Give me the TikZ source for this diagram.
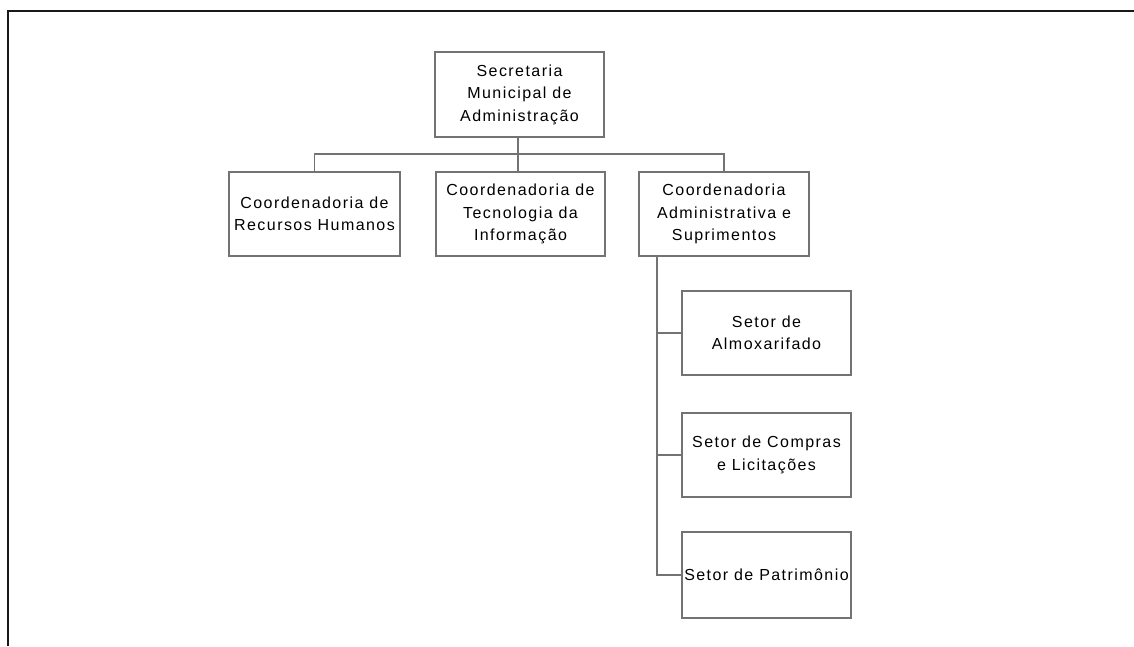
\documentclass[tikz,border=0pt]{standalone}
\usepackage{fontspec}
\setmainfont{Liberation Sans}[LetterSpace=9]
\begin{document}
\begin{tikzpicture}[x=1pt,y=-1pt,
  box/.style={draw=black!55,line width=1.3pt,fill=white,inner sep=0pt,align=center,
    text=black,font=\fontsize{16}{22.5}\selectfont,minimum width=169pt,minimum height=85pt},
  conn/.style={draw=black!55,line width=1.3pt}]
\useasboundingbox (0,0) rectangle (1134,646);
\draw[line width=2.2pt,black!90] (8,646) -- (8,11) -- (1134,11);
\node[box] (top) at (519.5,94.5) {Secretaria\\Municipal de\\Administração};
\node[box,minimum width=171pt,minimum height=84pt] (b1) at (314.5,214) {Coordenadoria de\\Recursos Humanos};
\node[box,minimum height=84pt] (b2) at (520.5,214) {Coordenadoria de\\Tecnologia da\\Informação};
\node[box,minimum width=170pt,minimum height=84pt] (b3) at (724,214) {Coordenadoria\\Administrativa e\\Suprimentos};
\node[box,minimum height=84pt] (s1) at (766.5,333) {Setor de\\Almoxarifado};
\node[box,minimum height=84pt] (s2) at (766.5,455) {Setor de Compras\\e Licitações};
\node[box,minimum height=86pt] (s3) at (766.5,575) {Setor de Patrimônio};
\coordinate (bus) at (518,154);
\coordinate (sp) at (657,256);
\draw[conn] (bus |- top.south) -- (bus);
\draw[conn] (b1.north) |- (bus) -| (b3.north);
\draw[conn] (bus) -- (bus |- b2.north);
\draw[conn] (sp) |- (s3.west);
\draw[conn] (s1.west) -- (s1.west -| sp);
\draw[conn] (s2.west) -- (s2.west -| sp);
\end{tikzpicture}
\end{document}
